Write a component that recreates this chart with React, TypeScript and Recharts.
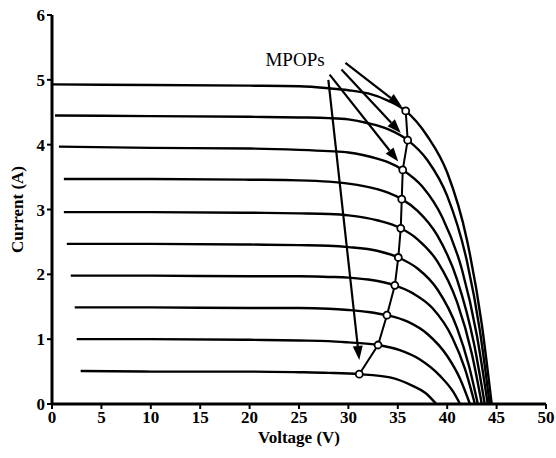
import React from "react";
import {
  LineChart,
  Line,
  XAxis,
  YAxis,
  ReferenceLine,
  ReferenceDot,
} from "recharts";

// I-V curves, [voltage, current], top curve first
const curve1 = [[0, 4.93], [10, 4.92], [20, 4.91], [25, 4.9], [28, 4.87], [30, 4.84], [32, 4.79], [34, 4.68], [35.8, 4.52], [38, 4.13], [40, 3.57], [42, 2.53], [43.5, 1.23], [44.5, 0]];
const curve2 = [[0.3, 4.45], [10, 4.44], [20, 4.43], [25, 4.42], [28, 4.41], [30, 4.39], [32, 4.33], [34, 4.24], [36, 4.07], [38, 3.76], [40, 3.21], [42, 2.2], [43.3, 1.14], [44.3, 0]];
const curve3 = [[0.7, 3.97], [10, 3.95], [20, 3.94], [25, 3.92], [28, 3.9], [30, 3.88], [33, 3.78], [34, 3.73], [35.5, 3.61], [37.5, 3.35], [39.5, 2.88], [41.5, 2.07], [43, 1.06], [44.1, 0]];
const curve4 = [[1.2, 3.47], [10, 3.47], [20, 3.46], [25, 3.45], [28, 3.43], [30, 3.4], [33, 3.31], [34, 3.26], [35.4, 3.16], [37, 2.98], [39, 2.6], [41, 1.92], [42.7, 0.94], [43.8, 0]];
const curve5 = [[1.2, 2.96], [10, 2.96], [20, 2.95], [25, 2.94], [28, 2.93], [30, 2.91], [33, 2.83], [35.3, 2.71], [37, 2.54], [39, 2.2], [41, 1.57], [42.5, 0.77], [43.5, 0]];
const curve6 = [[1.5, 2.47], [10, 2.47], [20, 2.46], [25, 2.45], [28, 2.44], [30, 2.42], [33, 2.36], [35.05, 2.26], [37, 2.09], [39, 1.77], [41, 1.17], [42.2, 0.59], [43.1, 0]];
const curve7 = [[1.9, 1.98], [10, 1.98], [20, 1.97], [25, 1.97], [28, 1.96], [30, 1.95], [32, 1.92], [34.7, 1.83], [36.5, 1.71], [38.5, 1.48], [40.5, 1.03], [41.8, 0.54], [42.8, 0]];
const curve8 = [[2.3, 1.49], [10, 1.49], [20, 1.48], [25, 1.48], [28, 1.47], [30, 1.45], [32, 1.42], [33.9, 1.37], [36, 1.27], [38, 1.08], [40, 0.74], [41.3, 0.39], [42.3, 0]];
const curve9 = [[2.5, 1.0], [10, 1.0], [20, 0.99], [25, 0.98], [28, 0.97], [30, 0.95], [33, 0.91], [35.2, 0.83], [37.2, 0.69], [39.3, 0.43], [40.6, 0.19], [41.3, 0]];
const curve10 = [[2.9, 0.51], [10, 0.5], [20, 0.5], [25, 0.49], [28, 0.48], [31.1, 0.46], [34.2, 0.41], [36.5, 0.28], [37.8, 0.17], [38.9, 0]];

const curves = [curve1, curve2, curve3, curve4, curve5, curve6, curve7, curve8, curve9, curve10];

// maximum power operating points
const mpop = [[35.8, 4.52], [36.0, 4.07], [35.5, 3.61], [35.4, 3.16], [35.3, 2.71], [35.05, 2.26], [34.7, 1.83], [33.9, 1.37], [33.0, 0.91], [31.1, 0.46]];

// arrows from the label: [fromV, fromI, toV, toI]
const arrows = [
  [29.7, 5.26, 35.4, 4.59],
  [29.3, 5.16, 35.3, 4.18],
  [28.1, 5.08, 35.05, 3.74],
  [27.97, 5.0, 31.1, 0.68],
];

const xTicks = [0, 5, 10, 15, 20, 25, 30, 35, 40, 45, 50];
const yTicks = [0, 1, 2, 3, 4, 5, 6];

const toPts = (arr: number[][]) => arr.map(([v, i]) => ({ v, i }));

const font = "'Liberation Serif', 'Times New Roman', serif";
const tickStyle = { fill: "#000", fontSize: 17, fontFamily: font, fontWeight: "bold" };

function ArrowShape(p: any) {
  const { x1, y1, x2, y2 } = p;
  const ang = Math.atan2(y2 - y1, x2 - x1);
  const len = 14;
  const half = 5;
  const bx = x2 - len * Math.cos(ang);
  const by = y2 - len * Math.sin(ang);
  const nx = -Math.sin(ang) * half;
  const ny = Math.cos(ang) * half;
  return (
    <g>
      <line x1={x1} y1={y1} x2={bx} y2={by} stroke="#000" strokeWidth={2.2} />
      <polygon points={`${x2},${y2} ${bx + nx},${by + ny} ${bx - nx},${by - ny}`} fill="#000" />
    </g>
  );
}

function YLabel(props: any) {
  const vb = props.viewBox || {};
  const x = vb.x + 5;
  const y = vb.y + vb.height / 2;
  return (
    <text
      x={x}
      y={y}
      transform={`rotate(-90, ${x}, ${y})`}
      textAnchor="middle"
      dominantBaseline="central"
      fontSize={17}
      fontWeight="bold"
      fontFamily={font}
      fill="#000"
    >
      Current (A)
    </text>
  );
}

export default function App() {
  return (
    <div style={{ position: "absolute", left: 0, top: 0, background: "#fff" }}>
      <LineChart width={556} height={458} margin={{ top: 15, right: 10, bottom: 24, left: 12 }}>
        <XAxis
          type="number"
          dataKey="v"
          domain={[0, 50]}
          ticks={xTicks}
          interval={0}
          allowDuplicatedCategory={false}
          height={30}
          tick={tickStyle}
          tickSize={5}
          tickLine={{ stroke: "#000", strokeWidth: 2 }}
          axisLine={{ stroke: "#000", strokeWidth: 3 }}
          label={{ value: "Voltage (V)", position: "bottom", offset: -3, fill: "#000", fontSize: 17, fontWeight: "bold", fontFamily: font }}
        />
        <YAxis
          type="number"
          dataKey="i"
          domain={[0, 6]}
          ticks={yTicks}
          interval={0}
          width={40}
          tick={tickStyle}
          tickSize={5}
          tickLine={{ stroke: "#000", strokeWidth: 2 }}
          axisLine={{ stroke: "#000", strokeWidth: 3 }}
          label={{ content: YLabel }}
        />
        {curves.map((c, k) => (
          <Line
            key={`c${k}`}
            data={toPts(c)}
            dataKey="i"
            type="monotone"
            stroke="#000"
            strokeWidth={2.4}
            dot={false}
            activeDot={false}
            isAnimationActive={false}
          />
        ))}
        <Line
          data={toPts(mpop)}
          dataKey="i"
          type="linear"
          stroke="#000"
          strokeWidth={2}
          dot={{ r: 3.5, stroke: "#000", strokeWidth: 1.8, fill: "#fff" }}
          activeDot={false}
          isAnimationActive={false}
        />
        {arrows.map(([a, b, c, d], k) => (
          <ReferenceLine
            key={`a${k}`}
            segment={[{ x: a, y: b }, { x: c, y: d }]}
            shape={ArrowShape}
          />
        ))}
        <ReferenceDot
          x={24.6}
          y={5.31}
          r={0}
          fill="none"
          stroke="none"
          label={{ value: "MPOPs", position: "center", fill: "#000", fontSize: 19, fontFamily: font }}
        />
      </LineChart>
    </div>
  );
}
